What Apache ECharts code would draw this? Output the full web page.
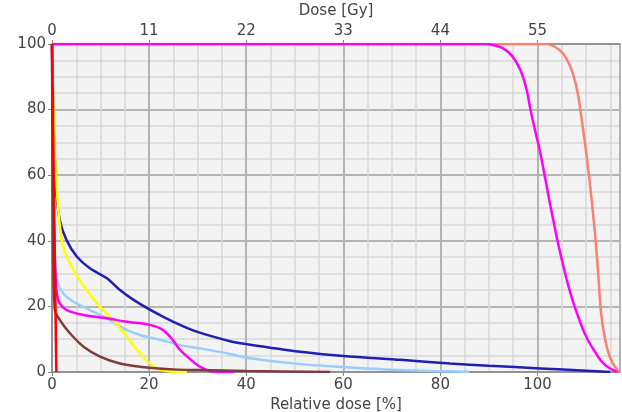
<!DOCTYPE html>
<html>
<head>
<meta charset="utf-8">
<script src="https://cdn.jsdelivr.net/npm/echarts@6/dist/echarts.min.js"></script>
<style>
  html, body { margin: 0; padding: 0; background: #fff; }
  #chart { width: 622px; height: 412px; }
</style>
</head>
<body>
<div id="chart"></div>
<script>
// DVH curves: [relative dose %, volume %]
const ptvSalmon = [[0,100],[101.5,100],[103,99.6],[104.5,98.2],[106,95.5],[107.3,91],[108.3,85],[109.2,76],[110.2,65],[111.2,52],[112,39.7],[112.6,28],[113.1,18],[113.8,11],[114.8,5],[116,1.5],[117,0]];
const ptvMagenta = [[0,100],[89,100],[91,99.6],[93,98.6],[94.8,96.3],[96.5,92],[97.7,86.5],[98.6,79.7],[99.6,73],[100.6,66.7],[102.7,50.4],[104.7,36.2],[106.8,24],[108.9,14.8],[110.3,10],[111.6,6.7],[113,3.6],[114.4,1.6],[116.4,0]];
const darkBlue = [[0,100],[0.3,78],[0.6,61],[0.8,55.5],[1.6,46.3],[3,40.2],[5.1,35.2],[7.8,31.6],[11.3,28.6],[14,25],[16.8,22],[20.9,18.4],[25,15.3],[29.8,12.3],[36.7,9.4],[40.5,8.4],[51.1,6.2],[60,4.9],[71.8,3.7],[82,2.6],[90,1.9],[100.6,1.1],[110,0.4],[115,0]];
const lightBlue = [[0,100],[0.3,50],[0.6,33],[1,28],[2.3,24],[4.4,21.4],[7.8,18.9],[11.3,16.4],[14.7,13.3],[18.1,11.3],[22.3,9.8],[26.4,8.2],[30.5,7.2],[36.7,5.5],[40.8,4.2],[51.1,2.4],[61.4,1.4],[71.8,0.6],[82,0.2],[86,0]];
const yellow = [[0,100],[0.5,70],[1.3,49.4],[2.3,38.2],[4.4,31.1],[7.1,25],[9.9,19.9],[12.6,15.9],[15.4,10.8],[18.1,5.7],[20.9,1.6],[23.6,0.3],[27.8,0]];
const oarMagenta = [[0,100],[0.3,50],[0.7,30],[1,24],[1.6,20.9],[3,18.9],[6.5,17.4],[11.3,16.4],[15.4,15.3],[19.5,14.6],[22.3,13.3],[24.3,10.8],[26.4,6.7],[29.1,3.1],[30.5,1.6],[32.5,0.3],[34,0],[37.5,0]];
const brown = [[0,100],[0.2,40],[0.6,18.9],[1.6,15.9],[3.7,11.8],[6.5,7.7],[9.9,4.7],[14,2.6],[19.5,1.4],[25,0.8],[30.5,0.6],[40,0.3],[57.3,0]];
const red = [[0,100],[0.9,0]];

// axes
const relMax = 117;          // relative dose axis end [%]
const prescription = 55;     // Gy at 100 %
const relTicks = 20;
const gyTicks = 11;
const volTicks = 20;

const labelStyle = { color: "#444", fontSize: 15, fontFamily: "DejaVu Sans" };

function line(name, data, color) {
  return {
    name: name,
    type: "line",
    xAxisIndex: 1,
    yAxisIndex: 1,
    data: data,
    showSymbol: false,
    smooth: 0.3,
    lineStyle: { color: color, width: 2.5 },
    itemStyle: { color: color },
  };
}

const option = {
  animation: false,
  grid: {
    left: 52,
    right: 2,
    top: 44,
    bottom: 40,
    outerBoundsMode: "none",
    show: true,
    backgroundColor: "#f3f3f3",
    borderWidth: 0,
  },
  xAxis: [
    // fine grid every 5 %
    {
      type: "value", min: 0, max: relMax, interval: 5,
      axisLine: { show: false }, axisTick: { show: false }, axisLabel: { show: false },
      splitLine: { show: true, lineStyle: { color: "#d9d9d9", width: 1.5 } },
    },
    {
      type: "value", position: "bottom", min: 0, max: relMax, interval: relTicks,
      name: "Relative dose [%]", nameLocation: "middle", nameGap: 25,
      nameTextStyle: labelStyle,
      axisLine: { lineStyle: { color: "#888", width: 1.5 } },
      axisTick: { length: 4, lineStyle: { color: "#888" } },
      axisLabel: Object.assign({ margin: 6, showMaxLabel: false }, labelStyle),
      splitLine: { show: true, lineStyle: { color: "#a6a6a6", width: 1.5 } },
    },
    {
      type: "value", position: "top", min: 0, max: relMax * prescription / 100, interval: gyTicks,
      name: "Dose [Gy]", nameLocation: "middle", nameGap: 23,
      nameTextStyle: labelStyle,
      axisLine: { lineStyle: { color: "#888", width: 1.5 } },
      axisTick: { length: 4, lineStyle: { color: "#888" } },
      axisLabel: Object.assign({ margin: 5, showMaxLabel: false }, labelStyle),
      splitLine: { show: false },
    },
  ],
  yAxis: [
    {
      type: "value", min: 0, max: 100, interval: 5,
      axisLine: { show: false }, axisTick: { show: false }, axisLabel: { show: false },
      splitLine: { show: true, lineStyle: { color: "#d9d9d9", width: 1.5 } },
    },
    {
      type: "value", position: "left", min: 0, max: 100, interval: volTicks,
      axisLine: { show: true, lineStyle: { color: "#888", width: 1.5 } },
      axisTick: { show: true, length: 4, lineStyle: { color: "#888" } },
      axisLabel: Object.assign({ margin: 6 }, labelStyle),
      splitLine: { show: true, lineStyle: { color: "#a6a6a6", width: 1.5 } },
    },
  ],
  series: [
    line("PTV 2", ptvSalmon, "#fa8070"),
    line("OAR 1", darkBlue, "#2020b0"),
    line("OAR 2", lightBlue, "#99ccff"),
    line("OAR 3", yellow, "#ffff00"),
    line("OAR 4", oarMagenta, "#ff00ff"),
    line("OAR 5", brown, "#7f3c3c"),
    line("PTV 1", ptvMagenta, "#ff00ff"),
    line("Body", red, "#ff0000"),
  ],
};

const chart = echarts.init(document.getElementById("chart"));
chart.setOption(option);
</script>
</body>
</html>
